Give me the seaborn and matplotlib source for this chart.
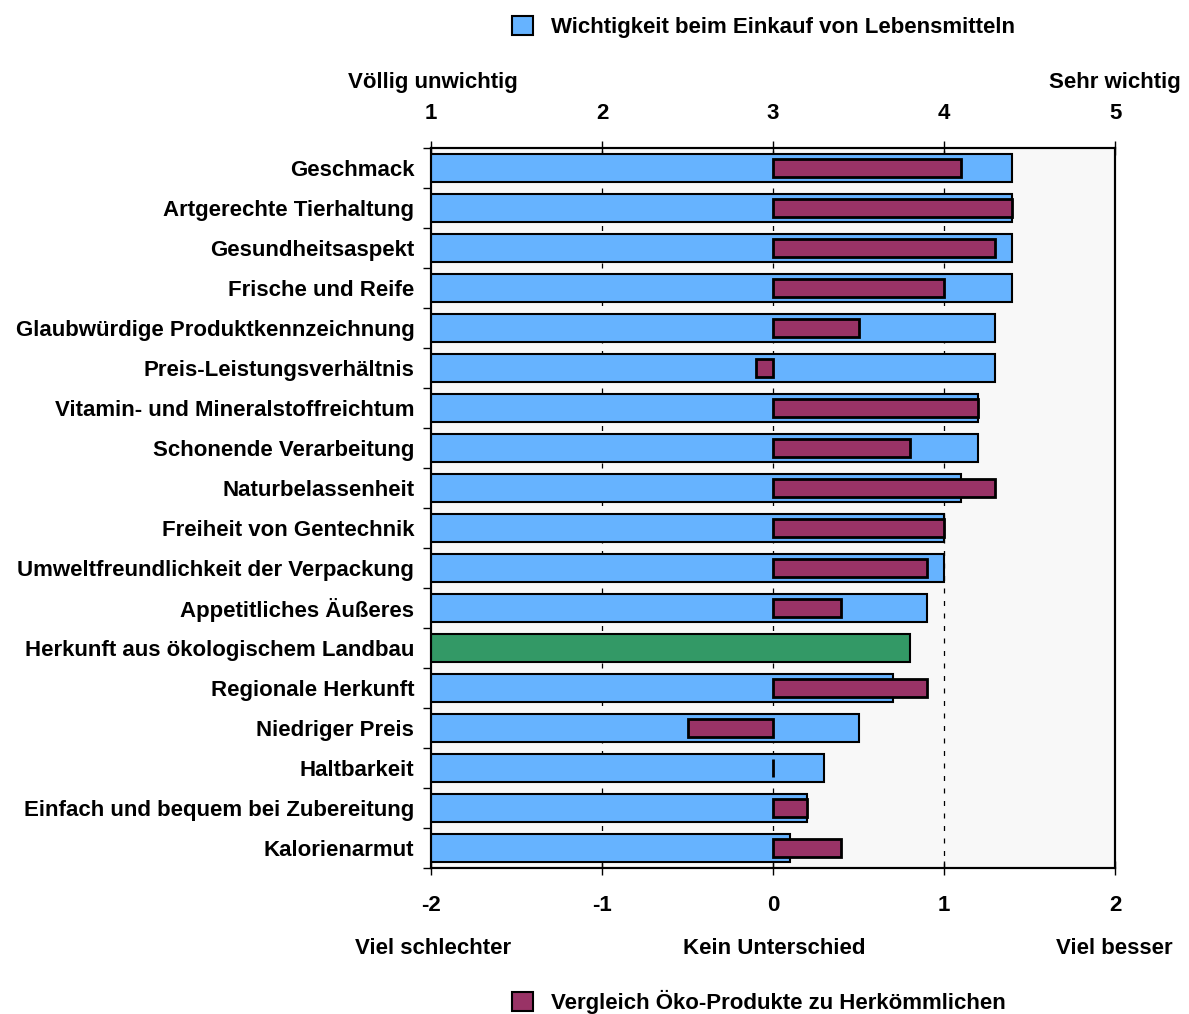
import matplotlib
matplotlib.use("Agg")
import matplotlib.pyplot as plt
from matplotlib.patches import Patch
import numpy as np
import pandas as pd
import seaborn as sns

categories = [
    "Geschmack",
    "Artgerechte Tierhaltung",
    "Gesundheitsaspekt",
    "Frische und Reife",
    "Glaubwürdige Produktkennzeichnung",
    "Preis-Leistungsverhältnis",
    "Vitamin- und Mineralstoffreichtum",
    "Schonende Verarbeitung",
    "Naturbelassenheit",
    "Freiheit von Gentechnik",
    "Umweltfreundlichkeit der Verpackung",
    "Appetitliches Äußeres",
    "Herkunft aus ökologischem Landbau",
    "Regionale Herkunft",
    "Niedriger Preis",
    "Haltbarkeit",
    "Einfach und bequem bei Zubereitung",
    "Kalorienarmut",
]

# Importance when buying food (1 = völlig unwichtig ... 5 = sehr wichtig)
importance = [4.4, 4.4, 4.4, 4.4, 4.3, 4.3, 4.2, 4.2, 4.1, 4.0, 4.0, 3.9,
              3.8, 3.7, 3.5, 3.3, 3.2, 3.1]

# Organic vs conventional products (-2 = viel schlechter ... 2 = viel besser)
comparison = [1.1, 1.4, 1.3, 1.0, 0.5, -0.1, 1.2, 0.8, 1.3, 1.0, 0.9, 0.4,
              np.nan, 0.9, -0.5, 0.0, 0.2, 0.4]

top_ticks = [1, 2, 3, 4, 5]
bottom_ticks = [-2, -1, 0, 1, 2]

BLUE = "#66B3FF"
MAROON = "#993366"
GREEN = "#339966"
FS = 16

df = pd.DataFrame({"Kriterium": categories,
                   "Wichtigkeit": importance,
                   "Vergleich": comparison})

sns.set_theme(style="white")
plt.rcParams["font.family"] = ["Liberation Sans", "DejaVu Sans"]
plt.rcParams["font.weight"] = "bold"
plt.rcParams["text.color"] = "black"
plt.rcParams["xtick.color"] = "black"
plt.rcParams["ytick.color"] = "black"
plt.rcParams["axes.unicode_minus"] = False

fig = plt.figure(figsize=(11.89, 10.14), dpi=100)
ax = fig.add_axes([0.3625, 0.1440, 0.5753, 0.7101])
ax.set_facecolor("#F8F8F8")

bar_colors = [GREEN if c == "Herkunft aus ökologischem Landbau" else BLUE
              for c in categories]
sns.barplot(data=df, x="Wichtigkeit", y="Kriterium", hue="Kriterium",
            order=categories, hue_order=categories, palette=bar_colors,
            legend=False, width=0.7, edgecolor="black", linewidth=1.5,
            saturation=1, orient="h", ax=ax)
ax.set_xlim(1, 5)
ax.set_ylim(len(categories) - 0.5, -0.5)
ax.set_xlabel("")
ax.set_ylabel("")
ax.grid(False)
for xv in [2, 3, 4]:
    ax.axvline(xv, color="black", linestyle=(0, (4, 6)), linewidth=0.9,
               zorder=0)

ax2 = ax.twiny()
sns.barplot(data=df, x="Vergleich", y="Kriterium", order=categories,
            color=MAROON, width=0.45, edgecolor="black", linewidth=2,
            saturation=1, orient="h", ax=ax2)
ax2.set_xlim(-2, 2)
ax2.set_xlabel("")
ax2.set_ylabel("")
ax2.set_ylim(len(categories) - 0.5, -0.5)

# importance scale on top, comparison scale at the bottom
ax.set_xticks(top_ticks)
ax2.set_xticks(bottom_ticks)
ax.tick_params(axis="x", top=True, bottom=False, labeltop=True,
               labelbottom=False, direction="inout", length=10, width=1,
               color="black", pad=12, labelsize=FS)
ax2.tick_params(axis="x", top=False, bottom=True, labeltop=False,
                labelbottom=True, direction="inout", length=10, width=1,
                color="black", pad=14.5, labelsize=FS)

for a in (ax, ax2):
    for s in a.spines.values():
        s.set_color("black")
        s.set_linewidth(1.5)

ax.tick_params(axis="y", which="major", left=False, length=0,
               labelsize=FS, pad=12)
ax.set_yticks(np.arange(len(categories) + 1) - 0.5, minor=True)
ax.tick_params(axis="y", which="minor", left=True, direction="out",
               length=6, width=1, color="black")
for lbl in ax.get_xticklabels() + ax2.get_xticklabels() + ax.get_yticklabels():
    lbl.set_fontweight("bold")
ax2.tick_params(axis="y", left=False, right=False, labelleft=False,
                labelright=False)

txt = dict(fontsize=FS, fontweight="bold", ha="center", va="center")
fig.text(0.364, 0.919, "Völlig unwichtig", **txt)
fig.text(0.938, 0.919, "Sehr wichtig", **txt)
fig.text(0.364, 0.065, "Viel schlechter", **txt)
fig.text(0.651, 0.065, "Kein Unterschied", **txt)
fig.text(0.937, 0.065, "Viel besser", **txt)

leg_kw = dict(frameon=False, handlelength=0.95, handleheight=0.95,
              handletextpad=0.8, prop={"size": FS, "weight": "bold"})
fig.legend(handles=[Patch(facecolor=BLUE, edgecolor="black", linewidth=1.5,
                          label="Wichtigkeit beim Einkauf von Lebensmitteln")],
           loc="center", bbox_to_anchor=(0.642, 0.973), **leg_kw)
fig.legend(handles=[Patch(facecolor=MAROON, edgecolor="black", linewidth=1.5,
                          label="Vergleich Öko-Produkte zu Herkömmlichen")],
           loc="center", bbox_to_anchor=(0.638, 0.012), **leg_kw)

fig.savefig("out.png", dpi=100, facecolor="white")
